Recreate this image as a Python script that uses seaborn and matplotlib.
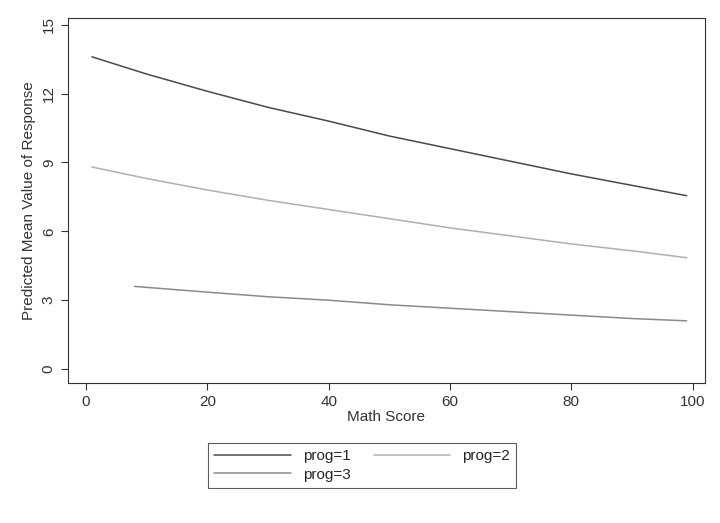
import numpy as np
import pandas as pd
import seaborn as sns
import matplotlib.pyplot as plt

# values
math_1 = [1, 10, 20, 30, 40, 50, 60, 70, 80, 90, 99]
prog1 = [13.6, 12.85, 12.1, 11.4, 10.8, 10.15, 9.6, 9.05, 8.5, 8.0, 7.55]
math_2 = [1, 10, 20, 30, 40, 50, 60, 70, 80, 90, 99]
prog2 = [8.8, 8.3, 7.8, 7.35, 6.95, 6.55, 6.15, 5.8, 5.45, 5.15, 4.85]
math_3 = [8, 20, 30, 40, 50, 60, 70, 80, 90, 99]
prog3 = [3.6, 3.35, 3.15, 3.0, 2.8, 2.65, 2.5, 2.35, 2.2, 2.1]

df = pd.concat([
    pd.DataFrame({'math': math_1, 'pred': prog1, 'prog': 'prog=1'}),
    pd.DataFrame({'math': math_2, 'pred': prog2, 'prog': 'prog=2'}),
    pd.DataFrame({'math': math_3, 'pred': prog3, 'prog': 'prog=3'}),
])

sns.set_style('white')
plt.rcParams['font.family'] = ['Liberation Sans', 'DejaVu Sans']

fig = plt.figure(figsize=(7.2, 5.23), dpi=100)
ax = fig.add_axes([0.094, 0.268, 0.885, 0.698])
palette = {'prog=1': '#4a4a4a', 'prog=2': '#b0b0b0', 'prog=3': '#8a8a8a'}
sns.lineplot(data=df, x='math', y='pred', hue='prog', palette=palette,
             linewidth=1.1, ax=ax, legend=False)

ax.set_xlim(-3, 102)
ax.set_ylim(-0.6, 15.3)
ax.set_xticks([0, 20, 40, 60, 80, 100])
ax.set_yticks([0, 3, 6, 9, 12, 15])
for lbl in ax.get_yticklabels():
    lbl.set_rotation(90)
    lbl.set_va('center')
ax.tick_params(axis='both', direction='out', length=5, width=0.8,
               colors='#333333', labelsize=11, bottom=True, left=True)
for s in ax.spines.values():
    s.set_color('#333333')
    s.set_linewidth(0.8)
ax.set_xlabel('Math Score', fontsize=11, color='#333333', labelpad=1)
ax.set_ylabel('Predicted Mean Value of Response', fontsize=11, color='#333333')

# column-major legend: order 1,3 | 2 gives rows "1 2" / "3"
order = ['prog=1', 'prog=3', 'prog=2']
handles = [plt.Line2D([], [], color=palette[k], lw=1.1) for k in order]
leg = fig.legend(handles, order, ncol=2, loc='center',
                 bbox_to_anchor=(0.503, 0.11), frameon=True, fancybox=False,
                 fontsize=11, handlelength=5, columnspacing=1.5,
                 borderpad=0.4, labelspacing=0.3)
leg.get_frame().set_edgecolor('#333333')
leg.get_frame().set_linewidth(0.8)

fig.savefig('out.png', dpi=100)
